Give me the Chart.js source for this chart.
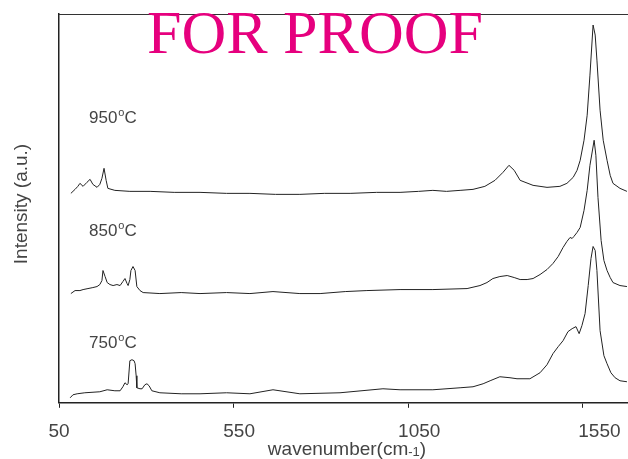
<!DOCTYPE html>
<html>
<head>
<meta charset="utf-8">
<script src="https://cdn.jsdelivr.net/npm/chart.js@4.4.0/dist/chart.umd.min.js"></script>
<style>
  html, body { margin: 0; padding: 0; background: #fff; }
  #wrap { width: 628px; height: 459px; position: relative; }
</style>
</head>
<body>
<div id="wrap"><canvas id="raman"></canvas></div>
<script>
// valores (intensidade em u.a., curvas deslocadas)
const xTicks = [50, 550, 1050, 1550];
const seriesNames = ['950', '850', '750'];

const wn950 = [84, 96, 104, 110, 119, 130, 139, 147, 159, 167, 173, 179, 185, 190, 210, 253, 311, 380, 454, 530, 597, 670, 740, 810, 884, 960, 1027, 1080, 1121, 1160, 1199, 1236, 1270, 1299, 1322, 1339, 1354, 1371, 1408, 1448, 1485, 1505, 1523, 1534, 1543, 1554, 1563, 1571, 1580, 1586, 1591, 1600, 1609, 1620, 1629, 1637, 1657, 1677];
const int950 = [209, 213, 216, 219, 216, 220, 223, 218, 215, 218, 224, 234, 222, 214, 212, 211, 211, 210, 210, 209, 209, 208, 208, 209, 209, 210, 210, 211, 212, 211, 212, 213, 216, 222, 230, 237, 232, 222, 217, 215, 216, 219, 225, 232, 242, 262, 287, 327, 377, 367, 342, 292, 262, 242, 227, 219, 214, 211];

const wn850 = [84, 96, 110, 119, 133, 147, 159, 167, 173, 176, 182, 188, 196, 205, 216, 225, 233, 239, 245, 248, 253, 256, 262, 268, 273, 282, 291, 339, 400, 454, 530, 597, 663, 740, 798, 870, 932, 1027, 1121, 1219, 1256, 1276, 1293, 1313, 1334, 1354, 1371, 1391, 1408, 1428, 1448, 1465, 1480, 1494, 1505, 1514, 1520, 1525, 1534, 1543, 1554, 1563, 1571, 1583, 1588, 1594, 1603, 1611, 1620, 1629, 1637, 1657, 1677];
const int850 = [109, 112, 112, 113, 114, 115, 116, 118, 122, 132, 126, 120, 118, 117, 118, 117, 121, 124, 119, 117, 123, 132, 136, 132, 116, 112, 110, 109, 110, 109, 110, 109, 111, 109, 109, 111, 112, 113, 113, 114, 117, 120, 124, 126, 127, 125, 123, 123, 124, 128, 133, 139, 146, 155, 161, 165, 164, 166, 170, 175, 192, 212, 237, 262, 247, 205, 162, 142, 132, 125, 120, 117, 116];

const wn750 = [82, 90, 102, 124, 167, 188, 210, 225, 233, 239, 245, 248, 253, 259, 265, 268, 271, 273, 282, 288, 296, 302, 308, 316, 339, 400, 454, 530, 597, 663, 740, 855, 978, 1027, 1121, 1199, 1236, 1265, 1285, 1313, 1342, 1362, 1399, 1428, 1448, 1465, 1480, 1494, 1508, 1520, 1531, 1540, 1548, 1557, 1566, 1574, 1580, 1586, 1591, 1600, 1611, 1620, 1631, 1643, 1657, 1677];
const int750 = [5, 8, 9, 10, 11, 13, 12, 12, 16, 20, 18, 19, 42, 43, 42, 39, 27, 15, 14, 14, 18, 19, 17, 12, 10, 9, 9, 10, 9, 13, 9, 10, 14, 13, 13, 15, 16, 19, 22, 26, 25, 24, 24, 30, 38, 49, 56, 62, 71, 74, 76, 69, 77, 89, 117, 144, 156, 152, 132, 72, 47, 39, 30, 25, 22, 21];

// rótulos das curvas: [texto, valor de y]
const curveLabels = [['950', 279], ['850', 166], ['750', 55]];

function toPoints(xs, ys) {
    return xs.map((x, i) => ({ x: x, y: ys[i] }));
}

const LINE = '#222';
const TEXT = '#444';
const FONT = '"Liberation Sans", sans-serif';

// desenha títulos, rótulos, borda superior e a marca d'água
const extras = {
    id: 'extras',
    afterDraw(chart) {
        const { ctx, chartArea } = chart;
        const xs = chart.scales.x, ys = chart.scales.y;
        ctx.save();

        // borda superior
        ctx.strokeStyle = '#333';
        ctx.lineWidth = 1.2;
        ctx.beginPath();
        ctx.moveTo(chartArea.left, chartArea.top + 0.5);
        ctx.lineTo(chartArea.right, chartArea.top + 0.5);
        ctx.stroke();

        ctx.fillStyle = TEXT;
        ctx.textBaseline = 'alphabetic';

        // rótulos do eixo x (no original ficam um pouco mais espaçados que os traços)
        ctx.textAlign = 'center';
        ctx.font = '19px ' + FONT;
        xTicks.forEach(v => {
            const px = chartArea.left + (xs.getPixelForValue(v) - chartArea.left) * 1.032;
            ctx.fillText(String(v), px, 437);
        });

        // rótulos de temperatura com "o" sobrescrito
        ctx.textAlign = 'left';
        curveLabels.forEach(([t, v]) => {
            let x = 89, y = ys.getPixelForValue(v);
            ctx.font = '17px ' + FONT;
            ctx.fillText(t, x, y);
            x += ctx.measureText(t).width + 1;
            ctx.font = '11px ' + FONT;
            ctx.fillText('o', x, y - 7);
            x += ctx.measureText('o').width;
            ctx.font = '17px ' + FONT;
            ctx.fillText('C', x, y);
        });

        // título do eixo y
        ctx.save();
        ctx.translate(27, 204);
        ctx.rotate(-Math.PI / 2);
        ctx.textAlign = 'center';
        ctx.font = '19px ' + FONT;
        ctx.fillText('Intensity (a.u.)', 0, 0);
        ctx.restore();

        // título do eixo x com subscrito
        ctx.textAlign = 'left';
        ctx.font = '19px ' + FONT;
        const a = 'wavenumber(cm', b = '-1', c = ')';
        const wa = ctx.measureText(a).width;
        ctx.font = '13px ' + FONT;
        const wb = ctx.measureText(b).width;
        ctx.font = '19px ' + FONT;
        const wc = ctx.measureText(c).width;
        let tx = 347 - (wa + wb + wc) / 2;
        const ty = 455;
        ctx.fillText(a, tx, ty);
        tx += wa;
        ctx.font = '13px ' + FONT;
        ctx.fillText(b, tx, ty + 1);
        tx += wb;
        ctx.font = '19px ' + FONT;
        ctx.fillText(c, tx, ty);

        // marca d'água
        ctx.fillStyle = '#e6007e';
        ctx.font = '62px "Liberation Serif", serif';
        ctx.fillText('FOR PROOF', 147, 53);

        ctx.restore();
    }
};

new Chart(document.getElementById('raman'), {
    type: 'line',
    data: {
        datasets: [
            { label: seriesNames[0], data: toPoints(wn950, int950) },
            { label: seriesNames[1], data: toPoints(wn850, int850) },
            { label: seriesNames[2], data: toPoints(wn750, int750) }
        ].map(d => Object.assign(d, {
            borderColor: LINE,
            borderWidth: 1,
            pointRadius: 0,
            tension: 0,
            fill: false
        }))
    },
    options: {
        responsive: true,
        maintainAspectRatio: false,
        animation: false,
        layout: { padding: { left: 51, right: 0, top: 14, bottom: 4 } },
        plugins: { legend: { display: false }, tooltip: { enabled: false } },
        scales: {
            x: {
                type: 'linear',
                min: 50,
                max: 1680,
                afterBuildTicks(axis) {
                    axis.ticks = xTicks.map(v => ({ value: v }));
                },
                grid: { drawOnChartArea: false, tickLength: 5, color: LINE, tickColor: LINE },
                border: { color: LINE, width: 1.5 },
                ticks: {
                    color: 'rgba(0,0,0,0)',
                    padding: 14,
                    maxRotation: 0,
                    font: { family: FONT, size: 16 },
                    callback: v => String(v)
                }
            },
            y: {
                min: 0,
                max: 388,
                grid: { display: false },
                border: { color: LINE, width: 1.5 },
                ticks: { display: false }
            }
        }
    },
    plugins: [extras]
});
</script>
</body>
</html>
